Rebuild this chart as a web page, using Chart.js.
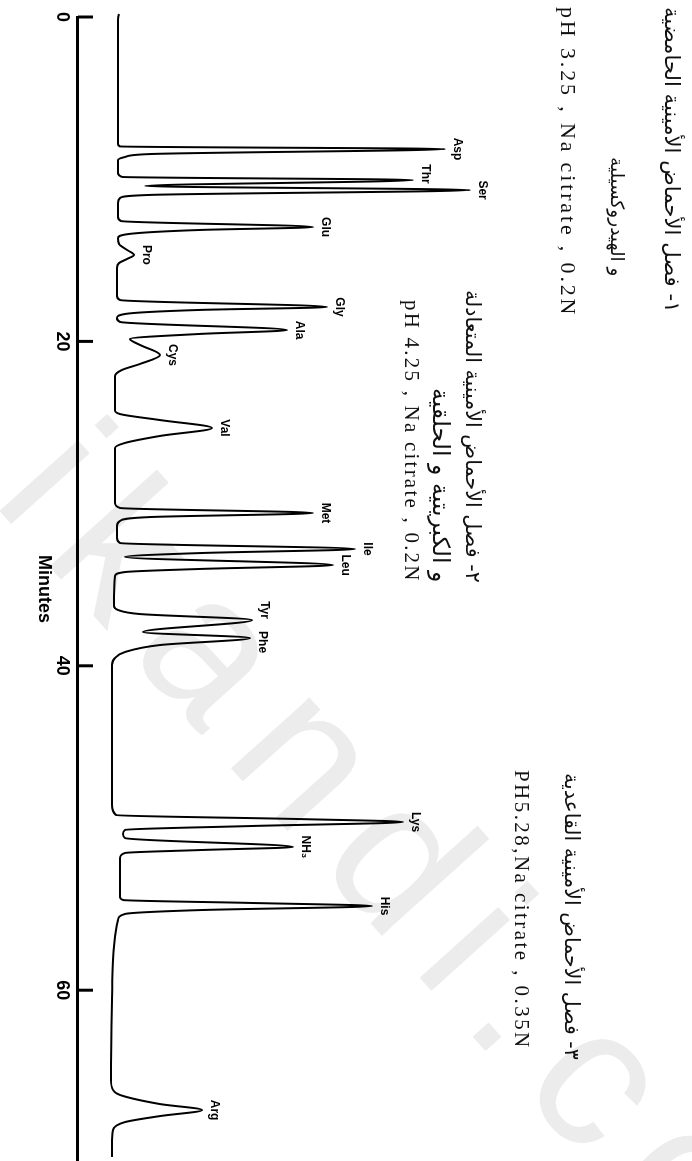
<!DOCTYPE html>
<html>
<head>
<meta charset="utf-8">
<title>Amino acid chromatogram</title>
<script src="https://cdn.jsdelivr.net/npm/chart.js@4.4.1/dist/chart.umd.min.js"></script>
<style>
  html, body { margin: 0; padding: 0; background: #fff; overflow: hidden; }
  #page { position: relative; width: 692px; height: 1161px; overflow: hidden; background: #fff; }
  /* the whole figure is printed turned a quarter clockwise */
  #sheet { position: absolute; left: 0; top: 0; width: 1161px; height: 692px;
           transform-origin: 0 0; transform: translate(692px, 0) rotate(90deg); }
  #chart { position: absolute; left: 0; top: 0; }
  .note { position: absolute; white-space: nowrap; line-height: 1; color: #111; }
  .ar { font-family: "DejaVu Sans", sans-serif; }
  .lat { font-family: "Liberation Serif", "DejaVu Serif", serif; }
  #mark { position: absolute; left: 116px; top: 388px; transform-origin: 0 0; transform: rotate(48deg);
          font: 200px "Liberation Sans", Arial, sans-serif; letter-spacing: 30px; color: #ececec;
          line-height: 1; white-space: nowrap; }
</style>
</head>
<body>
<div id="page">
  <div id="mark">ikandi.com</div>
  <div id="sheet">
    <canvas id="chart" width="1161" height="692"></canvas>
    <div class="note ar" id="n1a" dir="rtl">١- فصل الأحماض الأمينية الحامضية</div>
    <div class="note ar" id="n1b" dir="rtl">و الهيدروكسيلية</div>
    <div class="note lat" id="n1c">pH 3.25 , Na citrate , 0.2N</div>
    <div class="note ar" id="n2a" dir="rtl">٢- فصل الأحماض الأمينية المتعادلة</div>
    <div class="note ar" id="n2b" dir="rtl">و الكبريتية و الحلقية</div>
    <div class="note lat" id="n2c">pH 4.25 , Na citrate , 0.2N</div>
    <div class="note ar" id="n3a" dir="rtl">٣- فصل الأحماض الأمينية القاعدية</div>
    <div class="note lat" id="n3b">PH5.28,Na citrate , 0.35N</div>
  </div>
</div>
<script>
// detector trace
const minutes = [
  -0.49, -0.37, -0.18, 0.18, 7.83, 7.98, 8.14, 8.45, 8.63, 8.82, 9.62, 9.86,
  10.05, 10.42, 10.67, 10.97, 11.16, 11.47, 12.33, 12.58, 12.95, 13.13, 13.37, 13.63,
  13.99, 14.36, 14.67, 14.92, 15.17, 15.47, 17.20, 17.45, 17.88, 18.06, 18.31, 18.56,
  18.80, 19.30, 19.54, 19.85, 20.22, 20.84, 21.39, 21.76, 22.13, 24.23, 24.48, 24.85,
  25.34, 25.83, 26.26, 26.57, 29.96, 30.27, 30.58, 30.83, 31.07, 31.38, 32.12, 32.43,
  32.80, 33.05, 33.29, 33.79, 34.03, 34.22, 34.46, 36.31, 36.56, 36.81, 37.18, 37.92,
  38.29, 38.72, 39.15, 39.52, 39.95, 48.58, 49.20, 49.45, 49.63, 49.88, 50.12, 50.37,
  50.62, 51.17, 51.36, 51.54, 51.85, 54.25, 54.44, 54.62, 54.81, 55.06, 55.30, 55.67,
  56.29, 58.14, 60.60, 65.54, 66.15, 66.46, 67.02, 67.39, 67.76, 68.13, 68.62, 69.54, 70.28
];
const response = [
  11.5, 10.75, 10.25, 10, 10, 10.5, 91.75, 18, 11.75, 10, 10, 11,
  83.75, 16.75, 98, 18, 10.5, 10, 10, 10.75, 58.75, 30.5, 13, 10,
  10.25, 12.25, 14, 12.25, 10.25, 9.75, 9.75, 10.5, 62.25, 30.5, 11.75, 9.75,
  10.5, 52.25, 30.5, 13, 15.5, 20.5, 15.5, 11, 9.25, 9.25, 10.5, 20.5,
  33.5, 20.5, 11.75, 9.25, 9.25, 10.5, 58.75, 18, 10.5, 9.75, 9.75, 10.5,
  69.25, 30.5, 11.75, 63.75, 30.5, 11.75, 9.25, 9, 10, 15.5, 43.5, 16.25,
  43, 20.5, 11.75, 9.25, 8.5, 8.5, 9.5, 55.5, 81.25, 43, 11.75, 11.25,
  11.75, 53.75, 30.5, 11.75, 10.5, 10.5, 11.25, 43, 73.5, 30.5, 11.75, 10,
  9.5, 8.75, 8.5, 8.25, 8.75, 10.5, 20.5, 31, 20.5, 11.75, 8.75, 8.5, 8.5
];

const peakNames = ['Asp', 'Thr', 'Ser', 'Glu', 'Pro', 'Gly', 'Ala', 'Cys', 'Val', 'Met',
                   'Ile', 'Leu', 'Tyr', 'Phe', 'Lys', 'NH₃', 'His', 'Arg'];
const peakMinutes = [8.14, 10.05, 10.67, 12.95, 14.67, 17.88, 19.30, 20.84, 25.34, 30.58,
                     32.80, 33.79, 37.18, 38.29, 49.63, 51.17, 54.81, 67.39];
const peakHeights = [91.75, 83.75, 98, 58.75, 14, 62.25, 52.25, 20.5, 33.5, 58.75,
                     69.25, 63.75, 43.5, 43, 81.25, 53.75, 73.5, 31];

const minuteTicks = [0, 20, 40, 60];

// small sideways nudges so crowded labels don't touch (px)
const labelNudge = { Thr: -6, Tyr: -10, Phe: 4 };

const inwardTicks = {
  id: 'inwardTicks',
  afterDraw(chart) {
    const { ctx, chartArea, scales: { x } } = chart;
    ctx.save();
    ctx.strokeStyle = '#000';
    ctx.lineWidth = 3;
    x.ticks.forEach(t => {
      const px = x.getPixelForValue(t.value);
      ctx.beginPath();
      ctx.moveTo(px, chartArea.bottom);
      ctx.lineTo(px, chartArea.bottom - 15);
      ctx.stroke();
    });
    ctx.restore();
  }
};

const peakLabels = {
  id: 'peakLabels',
  afterDatasetsDraw(chart) {
    const { ctx, scales: { x, y } } = chart;
    ctx.save();
    ctx.font = 'bold 12px "Liberation Sans", Arial, sans-serif';
    ctx.fillStyle = '#000';
    ctx.textAlign = 'center';
    ctx.textBaseline = 'bottom';
    peakNames.forEach((name, i) => {
      const px = x.getPixelForValue(peakMinutes[i]) + (labelNudge[name] || 0);
      const py = y.getPixelForValue(peakHeights[i]) - 6;
      ctx.fillText(name, px, py);
    });
    ctx.restore();
  }
};

new Chart(document.getElementById('chart'), {
  type: 'scatter',
  data: {
    datasets: [{
      data: minutes.map((m, i) => ({ x: m, y: response[i] })),
      showLine: true,
      borderColor: '#000',
      borderWidth: 2,
      borderJoinStyle: 'round',
      pointRadius: 0,
      cubicInterpolationMode: 'monotone',
      clip: false
    }]
  },
  options: {
    responsive: false,
    animation: false,
    devicePixelRatio: 1,
    layout: { padding: { top: 14, left: 17, right: 0, bottom: 0 } },
    plugins: { legend: { display: false }, tooltip: { enabled: false } },
    scales: {
      x: {
        type: 'linear',
        position: 'bottom',
        min: 0,
        max: 70.53,
        afterBuildTicks: s => { s.ticks = minuteTicks.map(v => ({ value: v })); },
        afterFit: s => { s.height = 78; },
        grid: { display: false, drawTicks: false },
        border: { display: true, width: 3, color: '#000' },
        ticks: { color: '#000', padding: 5, font: { family: '"Liberation Sans", Arial, sans-serif', size: 18, weight: 'bold' } },
        title: {
          display: true,
          text: 'Minutes',
          color: '#000',
          padding: { top: 4, bottom: 33 },
          font: { family: '"Liberation Sans", Arial, sans-serif', size: 18, weight: 'bold' }
        }
      },
      y: { display: false, min: 0, max: 150 }
    }
  },
  plugins: [inwardTicks, peakLabels]
});

// notes: screen column centre, the screen rows they span, fixed size for the latin lines
const noteSpots = [
  ['n1a', 673, 7, 313, 0], ['n1b', 617, 157, 277, 0], ['n1c', 568, 7, 317, 22],
  ['n2a', 473, 290, 583, 0], ['n2b', 440, 388, 583, 0], ['n2c', 412, 300, 583, 21],
  ['n3a', 572, 773, 1060, 0], ['n3b', 522, 770, 1050, 21]
];
noteSpots.forEach(([id, sx, y1, y2, size]) => {
  const el = document.getElementById(id);
  const span = y2 - y1;
  if (size) {
    // latin lines are printed a little spaced out
    el.style.fontSize = size + 'px';
    const n = el.textContent.length;
    el.style.letterSpacing = Math.max(0, (span - el.offsetWidth) / n).toFixed(2) + 'px';
  } else {
    el.style.fontSize = '20px';
    el.style.fontSize = (20 * span / el.offsetWidth).toFixed(2) + 'px';
  }
  el.style.left = y1 + 'px';
  el.style.top = (692 - sx - el.offsetHeight / 2) + 'px';
});
</script>
</body>
</html>
